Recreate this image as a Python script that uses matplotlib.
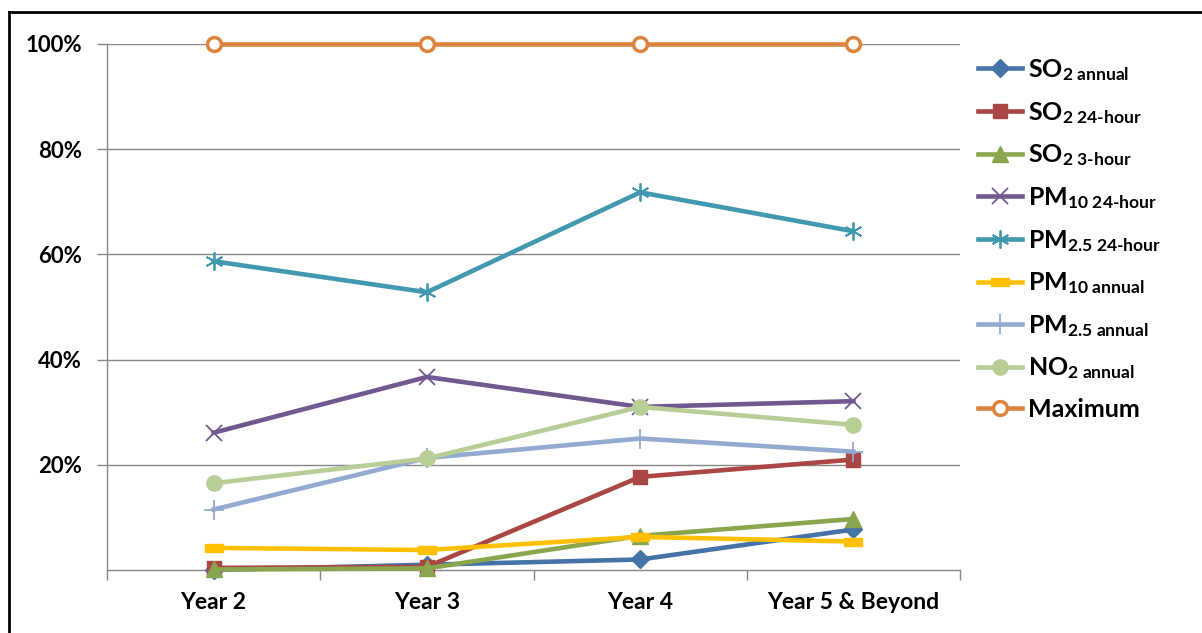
import matplotlib
matplotlib.use("Agg")
import matplotlib.pyplot as plt
from matplotlib.lines import Line2D
from matplotlib.ticker import FixedLocator, FuncFormatter

plt.rcParams['font.family'] = ['Lato', 'DejaVu Sans']
plt.rcParams['font.weight'] = 'bold'
plt.rcParams['mathtext.fontset'] = 'custom'
plt.rcParams['mathtext.rm'] = 'Lato:bold'
plt.rcParams['mathtext.bf'] = 'Lato:bold'
plt.rcParams['mathtext.it'] = 'Lato:bold'

categories = ["Year 2", "Year 3", "Year 4", "Year 5 & Beyond"]

so2_annual = [0.0, 1.0, 2.0, 7.7]
so2_24h = [0.4, 0.6, 17.7, 21.0]
so2_3h = [0.1, 0.3, 6.5, 9.7]
pm10_24h = [26.1, 36.7, 31.0, 32.1]
pm25_24h = [58.7, 52.8, 71.8, 64.4]
pm10_annual = [4.2, 3.8, 6.3, 5.4]
pm25_annual = [11.5, 21.3, 25.0, 22.5]
no2_annual = [16.5, 21.2, 31.0, 27.6]
maximum = [100, 100, 100, 100]

y_ticks = [20, 40, 60, 80, 100]

W, H = 1202, 633
fig = plt.figure(figsize=(W / 100, H / 100), dpi=100)
ax = fig.add_axes([107 / W, 1 - 570 / H, (960 - 107) / W, (570 - 44) / H])

x = list(range(len(categories)))
dash = [(-1, -0.42), (1, -0.42), (1, 0.42), (-1, 0.42), (-1, -0.42)]

series = [
    (so2_annual, r'SO$_{\text{2 annual}}$', '#4572A7', dict(marker='D', ms=9)),
    (so2_24h, r'SO$_{\text{2 24-hour}}$', '#AA4643', dict(marker='s', ms=10)),
    (so2_3h, r'SO$_{\text{2 3-hour}}$', '#89A54E', dict(marker='^', ms=11)),
    (pm10_24h, r'PM$_{\text{10 24-hour}}$', '#71588F', dict(marker='x', ms=12, mew=1.3)),
    (pm25_24h, r'PM$_{\text{2.5 24-hour}}$', '#4198AF', dict(marker=(6, 2, 0), ms=13, mew=1.3)),
    (pm10_annual, r'PM$_{\text{10 annual}}$', '#FFC000', dict(marker=dash, ms=13)),
    (pm25_annual, r'PM$_{\text{2.5 annual}}$', '#93A9CF', dict(marker='+', ms=15, mew=1.3)),
    (no2_annual, r'NO$_{\text{2 annual}}$', '#B9CD96', dict(marker='o', ms=11)),
    (maximum, 'Maximum', '#DB843D', dict(marker='o', ms=10, mfc='white', mew=2.5)),
]

handles = []
for vals, label, color, mk in series:
    kw = dict(color=color, lw=3.3, label=label, zorder=3, clip_on=False)
    if 'mfc' not in mk:
        kw['mfc'] = color
    if 'mec' not in mk:
        kw['mec'] = color
    kw.update(mk)
    ln, = ax.plot(x, vals, **kw)
    handles.append(ln)

ax.set_xlim(-0.5, 3.5)
ax.set_ylim(0, 100)

ax.yaxis.set_major_locator(FixedLocator(y_ticks))
ax.yaxis.set_major_formatter(FuncFormatter(lambda v, p: f"{int(v)}%"))
ax.grid(axis='y', color='#868686', lw=1, zorder=0)
ax.tick_params(axis='y', direction='out', length=7, width=1, color='#868686',
               pad=11, labelsize=16)

ax.set_xticks(x)
ax.set_xticklabels(categories)
ax.set_xticks([-0.5, 0.5, 1.5, 2.5, 3.5], minor=True)
ax.tick_params(axis='x', which='major', length=0, pad=16, labelsize=16.5)
ax.tick_params(axis='x', which='minor', direction='out', length=7, width=1, color='#868686')

for s in ['top', 'right']:
    ax.spines[s].set_visible(False)
for s in ['left', 'bottom']:
    ax.spines[s].set_color('#868686')
    ax.spines[s].set_linewidth(1)

for lbl in ax.get_xticklabels() + ax.get_yticklabels():
    lbl.set_fontweight('bold')

leg = fig.legend(handles=handles, loc='upper left',
                 bbox_to_anchor=(978 / W, 1 - 57 / H),
                 frameon=False, fontsize=18, handlelength=1.75,
                 handletextpad=0.25, labelspacing=0.67, borderpad=0,
                 borderaxespad=0)

# outer border (top and left visible)
fig.add_artist(Line2D([9 / W, 9 / W], [0, 1 - 12 / H], color='black', lw=2))
fig.add_artist(Line2D([9 / W, 1], [1 - 12 / H, 1 - 12 / H], color='black', lw=2))

fig.savefig("out.png", dpi=100)
